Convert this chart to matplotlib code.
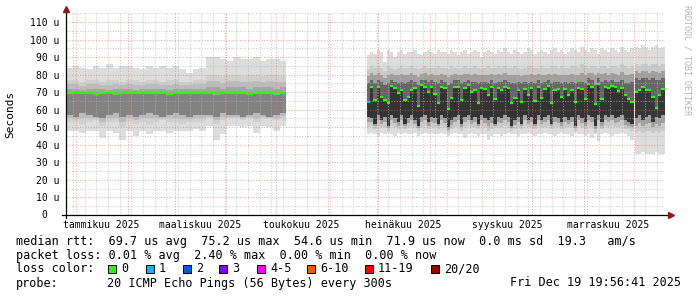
import matplotlib
matplotlib.use("Agg")
import matplotlib.pyplot as plt
import matplotlib.dates as mdates
from matplotlib.ticker import MultipleLocator, FuncFormatter, NullFormatter
from matplotlib.patches import Rectangle
import numpy as np
import pandas as pd

plt.rcParams['font.family'] = ['DejaVu Sans Mono']

# ---- data (values in microseconds) ----
# segment 1: late Dec 2024 .. early May 2025, 4-day columns
seg1_start = '2024-12-25 20:56'
seg1_step = 4
lo1 = [48, 48, 47, 48, 48, 44, 48, 47, 43, 48, 45, 48, 46, 48, 48, 47, 48, 48, 48, 49,
       48, 51, 43, 46, 51, 51, 50, 51, 47, 51, 50, 48, 51]
p10_1 = [53, 53, 52, 53, 54, 51, 53, 53, 50, 53, 52, 53, 52, 53, 54, 53, 53, 52, 53, 53,
         53, 55, 52, 54, 55, 55, 54, 55, 53, 55, 55, 54, 55]
q1_1 = [57, 56, 58, 57, 56, 55, 57, 58, 56, 57, 56, 57, 58, 57, 56, 57, 58, 57, 56, 57,
        57, 57, 56, 58, 57, 57, 56, 57, 58, 57, 56, 57, 58]
med1 = [69.8, 69.8, 69.8, 69.8, 69.0, 69.8, 69.8, 69.0, 69.8, 69.8,
        69.8, 69.8, 69.8, 69.8, 69.8, 69.0, 69.8, 69.8, 69.8, 69.8,
        69.8, 69.8, 69.0, 69.8, 69.8, 69.8, 69.8, 69.0, 69.8, 69.8, 69.8, 69.0, 69.8]
q3_1 = [72, 72, 71, 72, 72, 72, 71, 72, 72, 72, 71, 72, 72, 72, 72, 71, 72, 72, 72, 72,
        72, 73, 73, 72, 73, 73, 73, 72, 73, 73, 73, 72, 73]
p90_1 = [77, 77, 76, 77, 77, 76, 77, 77, 76, 77, 77, 76, 77, 77, 76, 77, 77, 76, 76, 77,
         77, 80, 80, 79, 80, 80, 79, 80, 80, 79, 80, 80, 79]
hi1 = [84, 85, 84, 83, 85, 84, 86, 84, 85, 85, 84, 83, 85, 84, 85, 84, 85, 83, 81, 83,
       84, 90, 90, 89, 88, 90, 89, 89, 90, 88, 89, 89, 88]
loss1 = [0] * len(med1)

# segment 2: late Jun .. end of Nov 2025, 2-day columns
seg2_start = '2025-06-24 00:00'
seg2_step = 2
lo2 = [46, 47, 46, 45, 47, 46, 47, 46, 45, 47,
       46, 47, 46, 46, 47, 45, 46, 47, 46, 47,
       46, 46, 47, 46, 45, 46, 47, 46, 46, 44,
       46, 47, 46, 45, 46, 46, 43, 45, 46, 46,
       45, 46, 47, 46, 46, 45, 46, 46, 47, 46,
       45, 46, 46, 47, 46, 46, 45, 46, 47, 46,
       46, 45, 47, 46, 46, 45, 46, 44, 46, 42,
       46, 47, 46, 45, 46, 46, 47, 46, 45, 43]
p10_2 = [50, 51, 49, 51, 50, 50, 48, 51, 50, 49,
         51, 49, 50, 51, 50, 48, 50, 51, 49, 50,
         50, 49, 51, 50, 47, 49, 50, 51, 48, 50,
         51, 50, 50, 49, 51, 50, 48, 49, 50, 50,
         50, 51, 50, 48, 49, 50, 49, 51, 50, 50,
         49, 51, 50, 50, 51, 49, 50, 50, 49, 50,
         50, 50, 48, 51, 50, 49, 51, 50, 47, 51,
         49, 51, 50, 51, 50, 50, 51, 49, 49, 48]
q1_2 = [56, 55, 52, 57, 54, 56, 51, 57, 55, 53,
        57, 52, 55, 57, 54, 51, 56, 57, 53, 56,
        55, 52, 57, 55, 50, 54, 56, 57, 52, 56,
        57, 54, 56, 52, 57, 55, 54, 56, 52, 56,
        55, 57, 56, 51, 54, 56, 52, 57, 54, 56,
        52, 57, 54, 56, 57, 52, 56, 55, 53, 56,
        54, 56, 51, 57, 55, 53, 57, 56, 51, 57,
        53, 57, 56, 57, 55, 56, 57, 54, 53, 52]
med2 = [64.6, 73.1, 65.5, 72.8, 67.4, 65.5, 63.7, 73.5, 72.2, 69.4,
        71.2, 65.5, 67.4, 71.2, 72.5, 62.1, 73.8, 73.1, 70.0, 72.8,
        68.8, 63.7, 72.8, 72.5, 60.2, 66.5, 72.8, 73.1, 65.5, 72.5,
        74.1, 70.0, 71.2, 63.7, 72.2, 71.8, 68.4, 72.8, 65.9, 72.2,
        71.2, 72.8, 72.2, 63.7, 66.5, 71.2, 64.6, 71.8, 68.4, 72.2,
        65.0, 72.8, 66.5, 71.8, 73.5, 64.0, 71.2, 71.8, 67.0, 71.8,
        68.4, 71.2, 64.6, 72.2, 71.8, 66.0, 74.5, 72.8, 63.0, 74.8,
        65.9, 73.1, 72.2, 73.5, 72.8, 70.8, 72.5, 68.4, 66.0, 64.6]
q3_2 = [75, 77, 75, 77, 76, 74, 75, 77, 76, 75,
        76, 75, 76, 77, 76, 74, 77, 77, 76, 77,
        76, 75, 77, 76, 74, 75, 77, 77, 75, 76,
        77, 76, 76, 75, 76, 76, 75, 77, 75, 76,
        76, 77, 76, 75, 75, 76, 75, 76, 75, 76,
        75, 77, 75, 76, 77, 75, 76, 76, 75, 76,
        75, 76, 75, 76, 76, 75, 78, 77, 74, 78,
        76, 77, 76, 77, 76, 76, 77, 75, 75, 76]
p90_2 = [83, 85, 84, 85, 84, 82, 85, 84, 83, 84,
         85, 84, 84, 85, 84, 83, 84, 85, 84, 84,
         84, 85, 84, 84, 83, 85, 84, 83, 84, 85,
         84, 84, 85, 84, 83, 84, 85, 84, 84, 85,
         84, 85, 84, 84, 85, 84, 83, 84, 85, 85,
         84, 84, 85, 84, 84, 85, 85, 84, 85, 84,
         84, 85, 85, 84, 86, 85, 84, 85, 85, 84,
         85, 85, 84, 85, 85, 84, 86, 85, 84, 85]
hi2 = [91, 93, 92, 94, 93, 87, 94, 93, 90, 93,
       94, 92, 93, 93, 94, 92, 91, 93, 94, 93,
       92, 94, 93, 93, 92, 94, 93, 91, 93, 94,
       92, 93, 94, 93, 90, 93, 94, 93, 92, 94,
       93, 95, 93, 92, 94, 93, 92, 93, 95, 94,
       92, 93, 94, 93, 92, 94, 95, 93, 94, 92,
       93, 95, 94, 93, 96, 94, 93, 95, 94, 92,
       95, 94, 93, 95, 94, 93, 96, 94, 93, 95]
loss2 = [1] + [0] * (len(med2) - 1)

# segment 3: December 2025
seg3_start = '2025-12-01 16:00'
seg3_step = 2
lo3 = [35, 35, 36, 35, 35, 35, 36, 35, 35]
p10_3 = [47, 48, 47, 48, 48, 47, 48, 47, 48]
q1_3 = [55, 57, 54, 56, 57, 53, 56, 55, 57]
med3 = [70.3, 71.5, 72.8, 71.0, 71.2, 67.1, 61.0, 68.4, 71.9]
q3_3 = [78, 77, 78, 78, 77, 78, 77, 77, 78]
p90_3 = [86, 85, 86, 86, 85, 86, 86, 85, 86]
hi3 = [96, 95, 97, 96, 94, 96, 97, 95, 96]
loss3 = [0] * len(med3)

loss_labels = ['0', '1', '2', '3', '4-5', '6-10', '11-19', '20/20']
loss_colors = ['#26ff00', '#00b8ff', '#0059ff', '#7e00ff', '#ff00ff', '#ff5500', '#ff0000', '#a10000']

month_names = ['tammikuu 2025', 'maaliskuu 2025', 'toukokuu 2025',
               'heinäkuu 2025', 'syyskuu 2025', 'marraskuu 2025']
month_label_days = ['2025-01-16', '2025-03-16', '2025-05-16',
                    '2025-07-16', '2025-09-16', '2025-11-16']

t_start = '2024-12-25 20:56'
t_end = '2025-12-19 19:56'

# ---- figure ----
W, H = 697, 297
fig = plt.figure(figsize=(W / 100, H / 100), dpi=100)
L, R, B, T = 66, 665, 215, 13.2
ax = fig.add_axes([L / W, 1 - B / H, (R - L) / W, (B - T) / H])


def num(s):
    return mdates.date2num(pd.Timestamp(s).to_pydatetime())


def draw_segment(start, step, lo, p10, q1, med, q3, p90, hi, loss, shades):
    x = num(start) + step * np.arange(len(med) + 1)
    lo, p10, q1, med, q3, p90, hi = [np.r_[a, a[-1]] for a in (lo, p10, q1, med, q3, p90, hi)]

    def band(a, b, c):
        ax.fill_between(x, a, b, step='post', color=c, lw=0, zorder=1)

    # smoke, light outside to dark towards the median
    band(lo, hi, '#dddddd')
    band(p10, p90, shades[0])
    band((p10 + q1) / 2, (q3 + p90) / 2, shades[1])
    band(q1, q3, shades[2])
    band(q1, med, shades[3])
    ax.hlines(med[:-1], x[:-1], x[1:], colors=[loss_colors[k] for k in loss],
              lw=1.6, zorder=4)


draw_segment(seg1_start, seg1_step, lo1, p10_1, q1_1, med1, q3_1, p90_1, hi1, loss1,
             ['#d0d0d0', '#bcbcbc', '#a4a4a4', '#828282'])
draw_segment(seg2_start, seg2_step, lo2, p10_2, q1_2, med2, q3_2, p90_2, hi2, loss2,
             ['#cacaca', '#a0a0a0', '#666666', '#333333'])
draw_segment(seg3_start, seg3_step, lo3, p10_3, q1_3, med3, q3_3, p90_3, hi3, loss3,
             ['#cacaca', '#a0a0a0', '#666666', '#363636'])

ax.set_xlim(num(t_start), num(t_end))
ax.set_ylim(0, 115)

ax.yaxis.set_major_locator(MultipleLocator(10))
ax.yaxis.set_minor_locator(MultipleLocator(5))
ax.xaxis.set_major_locator(mdates.MonthLocator())
ax.xaxis.set_minor_locator(mdates.WeekdayLocator(byweekday=mdates.MO))
ax.xaxis.set_major_formatter(NullFormatter())
ax.yaxis.set_major_formatter(FuncFormatter(lambda v, p: '' if v == 0 else '%d u' % v))

ax.set_axisbelow(False)
ax.grid(which='minor', color='#b8b8b8', lw=0.75, linestyle=(0, (1, 1.6)), alpha=0.7)
ax.grid(which='major', color='#e07070', lw=0.75, linestyle=(0, (1, 1.6)), alpha=0.6)
ax.tick_params(which='both', length=0)
ax.tick_params(axis='y', pad=5, labelsize=7)
for s in ax.spines.values():
    s.set_visible(False)
ax.patch.set_alpha(0)

ax.text(-19 / (R - L), 0, '0', transform=ax.get_yaxis_transform(), ha='right',
        va='center', fontsize=7)

for name, d in zip(month_names, month_label_days):
    ax.text(num(d), -9.5 / (B - T), name, transform=ax.get_xaxis_transform(),
            ha='center', va='center', fontsize=7)

# axes lines with arrows
ax.plot([-4 / (R - L), 1 + 4 / (R - L)], [0, 0], color='black', lw=0.9,
        transform=ax.transAxes, clip_on=False, zorder=6)
ax.plot([0, 0], [-3 / (B - T), 1 + 2 / (B - T)], color='black', lw=0.9,
        transform=ax.transAxes, clip_on=False, zorder=6)
ax.plot([1 + 6 / (R - L)], [0], marker='>', ms=5, color='#8b1a1a', mec='#8b1a1a',
        transform=ax.transAxes, clip_on=False, zorder=7)
ax.plot([0], [1 + 4 / (B - T)], marker='^', ms=5, color='#8b1a1a', mec='#8b1a1a',
        transform=ax.transAxes, clip_on=False, zorder=7)

fig.text(10 / W, 1 - 114 / H, 'Seconds', rotation=90, ha='center', va='center', fontsize=8)
fig.text(687 / W, 1 - 60 / H, 'RRDTOOL / TOBI OETIKER', rotation=270, ha='center',
         va='center', fontsize=6, color='#b4b4b4')

# legend
fs = 8.5
fig.text(16 / W, 1 - 241 / H,
         'median rtt:  69.7 us avg  75.2 us max  54.6 us min  71.9 us now  0.0 ms sd  19.3   am/s',
         ha='left', va='center', fontsize=fs)
fig.text(16 / W, 1 - 255 / H,
         'packet loss: 0.01 % avg  2.40 % max  0.00 % min  0.00 % now',
         ha='left', va='center', fontsize=fs)
fig.text(16 / W, 1 - 269 / H, 'loss color:', ha='left', va='center', fontsize=fs)
sq_x = [108, 146, 183, 219, 257, 307, 365, 431]
for xx, lab, c in zip(sq_x, loss_labels, loss_colors):
    fig.add_artist(Rectangle((xx / W, 1 - 273 / H), 8 / W, 8 / H, transform=fig.transFigure,
                             facecolor=c, edgecolor='black', lw=0.7))
    fig.text((xx + 13) / W, 1 - 269 / H, lab, ha='left', va='center', fontsize=fs)
fig.text(16 / W, 1 - 283 / H, 'probe:', ha='left', va='center', fontsize=fs)
fig.text(107 / W, 1 - 283 / H, '20 ICMP Echo Pings (56 Bytes) every 300s',
         ha='left', va='center', fontsize=fs)
fig.text(681 / W, 1 - 283 / H, 'Fri Dec 19 19:56:41 2025', ha='right', va='center', fontsize=fs)

fig.savefig('out.png', dpi=100)
